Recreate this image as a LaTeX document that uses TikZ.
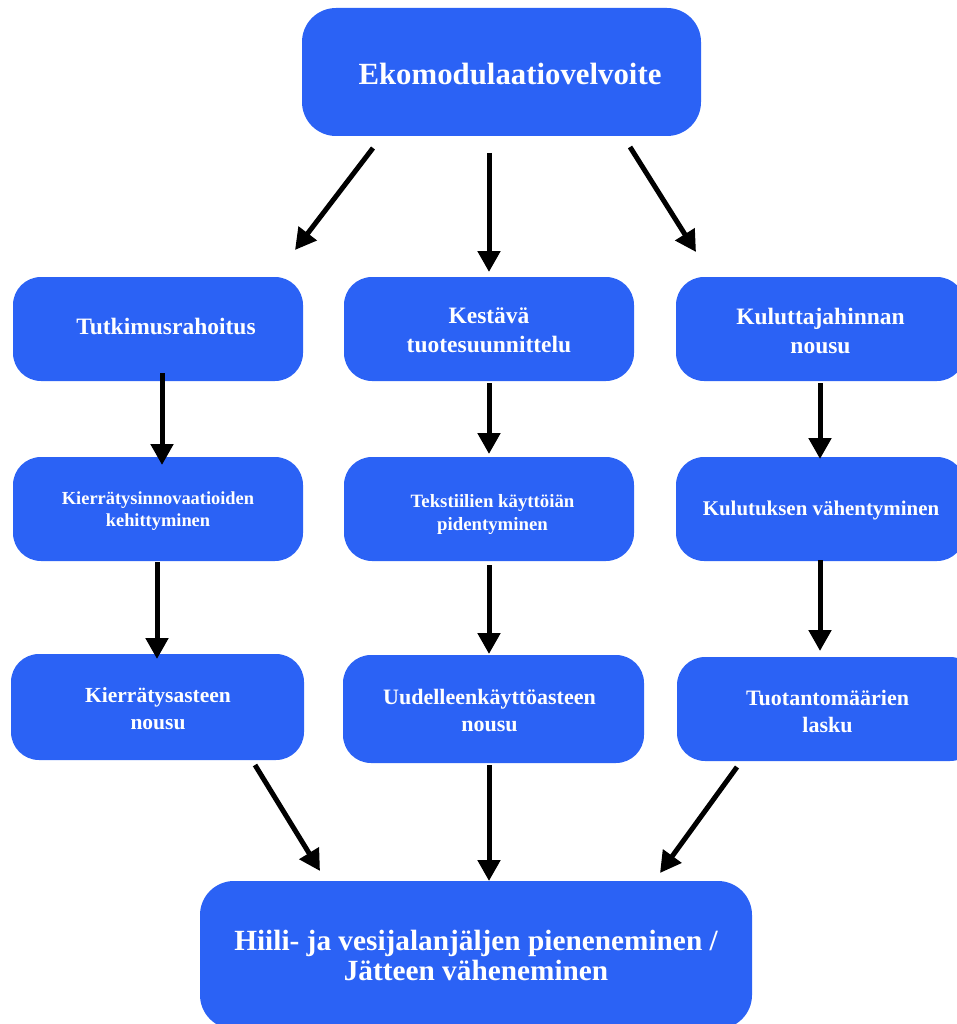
\documentclass[tikz,border=0pt]{standalone}
\usepackage{fontspec}
\setmainfont{Liberation Serif}
\usetikzlibrary{arrows.meta}
\definecolor{boxblue}{HTML}{2B62F5}
\begin{document}
\begin{tikzpicture}[x=1pt,y=-1pt,
  box/.style={rectangle, rounded corners=28pt, fill=boxblue,
    inner sep=0pt, minimum width=290pt, minimum height=104pt},
  bigbox/.style={box, rounded corners=34pt},
  txt/.style n args={2}{text=white, inner sep=0pt, align=center,
    font=\fontsize{#1}{#2}\selectfont\bfseries},
  flow/.style={line width=5pt, -{Triangle[length=21pt,width=22pt]}}
]
\useasboundingbox (0,0) rectangle (957,1024);
\clip (0,0) rectangle (957,1024);

% Boxes
\node[bigbox, minimum width=399pt, minimum height=128pt] (top) at (501.5,72) {};
\node[box] (r1l) at (158,329) {};
\node[box] (r1m) at (489,329) {};
\node[box, minimum width=289pt] (r1r) at (820.5,329) {};
\node[box] (r2l) at (158,509) {};
\node[box] (r2m) at (489,509) {};
\node[box, minimum width=289pt] (r2r) at (820.5,509) {};
\node[box, minimum width=293pt, minimum height=106pt] (r3l) at (157.5,707) {};
\node[box, minimum width=301pt, minimum height=108pt] (r3m) at (493.5,709) {};
\node[box, minimum width=301pt] (r3r) at (827.5,709) {};
\node[bigbox, minimum width=552pt, minimum height=148pt] (bot) at (476,955) {};

% Box texts
\node[txt={30.8}{36}] (top-t) at (510,74) {Ekomodulaatiovelvoite};
\node[txt={23.5}{29}] (r1l-t) at (166,326) {Tutkimusrahoitus};
\node[txt={23.5}{29}] (r1m-t) at (489,330) {Kestävä\\tuotesuunnittelu};
\node[txt={23.5}{29}] (r1r-t) at (820.5,331) {Kuluttajahinnan\\nousu};
\node[txt={18.4}{22}] (r2l-t) at (158,511) {Kierrätysinnovaatioiden\\kehittyminen};
\node[txt={18.8}{23}] (r2m-t) at (492.5,515) {Tekstiilien käyttöiän\\pidentyminen};
\node[txt={20.9}{25}] (r2r-t) at (821,511) {Kulutuksen vähentyminen};
\node[txt={21.5}{27}] (r3l-t) at (158,709) {Kierrätysasteen\\nousu};
\node[txt={22}{27}] (r3m-t) at (489.5,710) {Uudelleenkäyttöasteen\\nousu};
\node[txt={22}{27}] (r3r-t) at (827.5,711) {Tuotantomäärien\\lasku};
\node[txt={29.3}{30}] (bot-t) at (476,955) {Hiili- ja vesijalanjäljen pieneneminen /\\Jätteen väheneminen};

% Arrow end points
\coordinate (a1s) at (373,148); \coordinate (a1e) at (295,250);
\coordinate (a2s) at (489,153); \coordinate (a2e) at (489,272);
\coordinate (a3s) at (630,147); \coordinate (a3e) at (696,252);

\coordinate (b1s) at (162,373); \coordinate (b1e) at (162,465);
\coordinate (b2s) at (489,383); \coordinate (b2e) at (489,454);
\coordinate (b3s) at (820,383); \coordinate (b3e) at (820,459);

\coordinate (c1s) at (157,562); \coordinate (c1e) at (157,659);
\coordinate (c2s) at (489,565); \coordinate (c2e) at (489,654);
\coordinate (c3s) at (820,560); \coordinate (c3e) at (820,651);

\coordinate (d1s) at (255,765); \coordinate (d1e) at (320,871);
\coordinate (d2s) at (489,765); \coordinate (d2e) at (489,881);
\coordinate (d3s) at (737,767); \coordinate (d3e) at (660,873);

% Connectors
\draw[flow] (a1s) -- (a1e);
\draw[flow] (a2s) -- (a2e);
\draw[flow] (a3s) -- (a3e);
\draw[flow] (b1s) -- (b1e);
\draw[flow] (b2s) -- (b2e);
\draw[flow] (b3s) -- (b3e);
\draw[flow] (c1s) -- (c1e);
\draw[flow] (c2s) -- (c2e);
\draw[flow] (c3s) -- (c3e);
\draw[flow] (d1s) -- (d1e);
\draw[flow] (d2s) -- (d2e);
\draw[flow] (d3s) -- (d3e);
\end{tikzpicture}
\end{document}
